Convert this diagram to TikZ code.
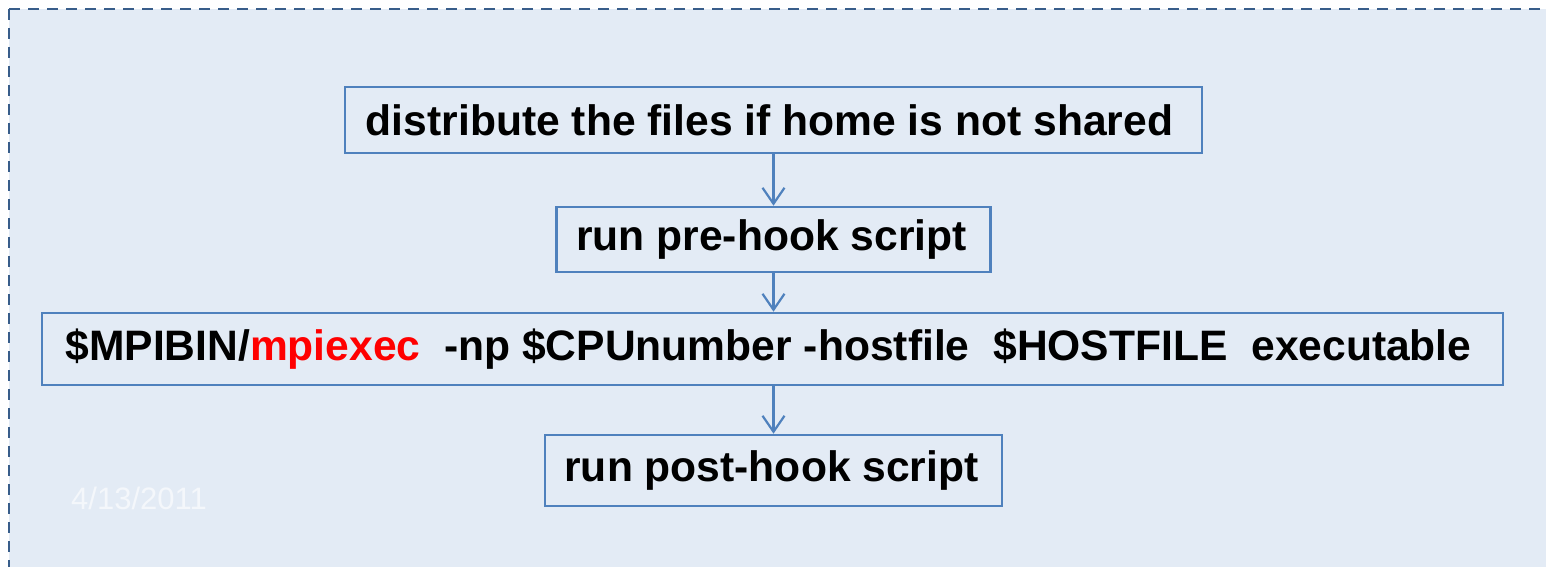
\documentclass[tikz,border=0pt]{standalone}
\usepackage{fontspec}
\setmainfont{Liberation Sans}
\usetikzlibrary{arrows.meta}
\definecolor{bg}{HTML}{E3EBF5}
\definecolor{dashblue}{HTML}{385D8A}
\definecolor{boxblue}{HTML}{4F81BD}
\definecolor{datecol}{HTML}{F4F7FB}
\definecolor{cmdred}{HTML}{FF0000}
\begin{document}
\begin{tikzpicture}[x=1pt,y=-1pt,
  stepbox/.style={draw=boxblue, line width=2.6pt, inner sep=0pt, text=black,
    font=\fontsize{42.6}{50}\selectfont\bfseries},
  conn/.style={draw=boxblue, line width=2.2pt,
    -{Straight Barb[length=16pt,width=22pt]}},
  frame/.style={draw=dashblue, line width=2.4pt, dash pattern=on 11pt off 8pt}]
\useasboundingbox (0,0) rectangle (1546,567);
\fill[white] (0,0) rectangle (1546,567);
\fill[bg] (9,9) rectangle (1546,567);
\coordinate (corner) at (9,9);
\coordinate (topend) at (1546,9);
\coordinate (leftend) at (9,567);
\draw[frame] (corner) -- (topend);
\draw[frame] (corner) -- (leftend);
\node[stepbox, minimum width=857pt, minimum height=66pt] (b1) at (773.5,120) {distribute the files if home is not shared\hspace*{8pt}};
\node[stepbox, minimum width=434pt, minimum height=65pt] (b2) at (773.5,239.5) {run pre-hook script\hspace*{4pt}};
\node[stepbox, minimum width=1461pt, minimum height=72pt] (b3) at (772.5,349) {\$MPIBIN/\textcolor{cmdred}{mpiexec}~~-np \$CPUnumber -hostfile~~\$HOSTFILE~~executable\hspace*{8pt}};
\node[stepbox, minimum width=457pt, minimum height=71pt] (b4) at (773.5,470.5) {run post-hook script\hspace*{4pt}};
\node[inner sep=0pt, anchor=west, text=datecol, font=\fontsize{31}{36}\selectfont] (date) at (71,498) {4/13/2011};
\draw[conn] (b1.south) -- (b2.north);
\draw[conn] (b2.south) -- (b3.north -| b2.south);
\draw[conn] (b3.south -| b2.south) -- (b4.north);
\end{tikzpicture}
\end{document}
